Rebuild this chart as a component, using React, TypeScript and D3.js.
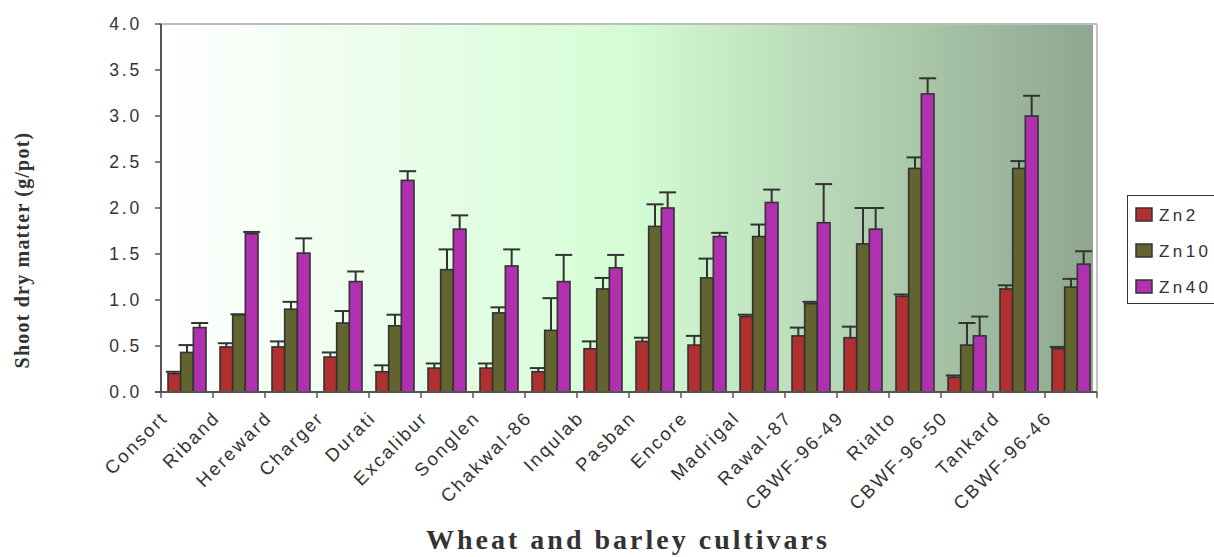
import React from "react";
import * as d3 from "d3";

const cultivars = ["Consort","Riband","Hereward","Charger","Durati","Excalibur","Songlen","Chakwal-86","Inqulab","Pasban","Encore","Madrigal","Rawal-87","CBWF-96-49","Rialto","CBWF-96-50","Tankard","CBWF-96-46"];
const seriesNames = ["Zn2","Zn10","Zn40"];
const zn2 = [0.20,0.49,0.49,0.38,0.22,0.26,0.26,0.22,0.47,0.55,0.51,0.82,0.61,0.59,1.04,0.16,1.12,0.47];
const zn2Err = [0.02,0.04,0.06,0.05,0.07,0.05,0.05,0.04,0.08,0.04,0.10,0.02,0.09,0.12,0.02,0.02,0.04,0.02];
const zn10 = [0.43,0.84,0.90,0.75,0.72,1.33,0.86,0.67,1.12,1.80,1.24,1.69,0.96,1.61,2.43,0.51,2.43,1.14];
const zn10Err = [0.08,0.005,0.08,0.13,0.12,0.22,0.06,0.35,0.12,0.24,0.21,0.13,0.02,0.39,0.12,0.24,0.08,0.09];
const zn40 = [0.70,1.72,1.51,1.20,2.30,1.77,1.37,1.20,1.35,2.00,1.69,2.06,1.84,1.77,3.24,0.61,3.00,1.39];
const zn40Err = [0.05,0.02,0.16,0.11,0.10,0.15,0.18,0.29,0.14,0.17,0.04,0.14,0.42,0.23,0.17,0.21,0.22,0.14];
const yTicks = [0,0.5,1,1.5,2,2.5,3,3.5,4];
const colors = ["#b03030","#636330","#b030b0"];

export default function App() {
  const left = 161, right = 1097, top = 24, bottom = 392;
  const x = d3.scaleBand<string>().domain(cultivars).range([left, right]).padding(0);
  const y = d3.scaleLinear().domain([0, 4]).range([bottom, top]);
  const groupW = 38;
  const inner = d3.scaleBand<string>().domain(seriesNames).range([0, groupW]).padding(0);
  const values = [zn2, zn10, zn40];
  const errs = [zn2Err, zn10Err, zn40Err];
  const capW = 17;
  const bw = x.bandwidth();
  const tickXs = cultivars.map((c) => x(c) as number).concat([right]);

  return (
    <svg width={1214} height={557} style={{ position: "absolute", left: 0, top: 0, background: "#fff" }}>
      <defs>
        <linearGradient id="bg" x1="0" x2="1" y1="0" y2="0">
          <stop offset="0%" stopColor="#ffffff" />
          <stop offset="50.5%" stopColor="#d4fcd4" />
          <stop offset="100%" stopColor="#8fa68f" />
        </linearGradient>
      </defs>
      <rect x={left + 1} y={top - 1} width={1093 - left - 1} height={bottom - top + 1} fill="url(#bg)" />
      <line x1={left} x2={right} y1={top} y2={top} stroke="#bdbdbd" strokeWidth={2} />
      <line x1={right} x2={right} y1={top} y2={bottom} stroke="#c4c4c4" strokeWidth={2} />

      {cultivars.map((c, i) => {
        const gx = (x(c) as number) + (bw - groupW) / 2;
        return (
          <g key={c}>
            {seriesNames.map((s, k) => {
              const v = values[k][i];
              const bx = gx + (inner(s) as number);
              const iw = inner.bandwidth();
              const cx = bx + iw / 2;
              const yt = y(v + errs[k][i]);
              return (
                <g key={s}>
                  <rect x={bx} y={y(v)} width={iw} height={bottom - y(v)} fill={colors[k]} stroke="#333" strokeWidth={1.6} />
                  <line x1={cx} x2={cx} y1={y(v)} y2={yt} stroke="#333" strokeWidth={2} />
                  <line x1={cx - capW / 2} x2={cx + capW / 2} y1={yt} y2={yt} stroke="#333" strokeWidth={2} />
                </g>
              );
            })}
          </g>
        );
      })}

      <line x1={left} x2={left} y1={top} y2={bottom} stroke="#555" strokeWidth={2} />
      <line x1={left - 6} x2={right} y1={bottom} y2={bottom} stroke="#555" strokeWidth={2} />
      {yTicks.map((t) => (
        <g key={t}>
          <line x1={left - 6} x2={left} y1={y(t)} y2={y(t)} stroke="#555" strokeWidth={1.5} />
          <text x={left - 19} y={y(t)} dy="0.36em" textAnchor="end" fontFamily="Liberation Sans, Arial, sans-serif" fontSize={17.5} letterSpacing={2.8} fill="#333">
            {d3.format(".1f")(t)}
          </text>
        </g>
      ))}
      {tickXs.map((tx, i) => (
        <line key={i} x1={tx} x2={tx} y1={bottom} y2={bottom + 6} stroke="#555" strokeWidth={1.5} />
      ))}
      {cultivars.map((c) => {
        const cx = (x(c) as number) + bw / 2 - 18;
        return (
          <text key={c} transform={`translate(${cx},${419}) rotate(-45)`} textAnchor="end" fontFamily="Liberation Sans, Arial, sans-serif" fontSize={18.5} letterSpacing={2.2} fill="#333">
            {c}
          </text>
        );
      })}

      <text transform="translate(29,250) rotate(-90)" textAnchor="middle" fontFamily="Liberation Serif, Times New Roman, serif" fontWeight="bold" fontSize={20} letterSpacing={1.2} fill="#333">
        Shoot dry matter (g/pot)
      </text>
      <text x={628} y={549} textAnchor="middle" fontFamily="Liberation Serif, Times New Roman, serif" fontWeight="bold" fontSize={28} letterSpacing={3} fill="#333">
        Wheat and barley cultivars
      </text>

      <rect x={1127.5} y={195.5} width={100} height={108} fill="#fff" stroke="#333" strokeWidth={1} />
      {seriesNames.map((s, k) => (
        <g key={s}>
          <rect x={1136} y={208 + k * 36} width={16} height={13} fill={colors[k]} stroke="#333" strokeWidth={1.5} />
          <text x={1159} y={221 + k * 36} fontFamily="Liberation Sans, Arial, sans-serif" fontSize={17} letterSpacing={3.4} fill="#333">
            {s}
          </text>
        </g>
      ))}
    </svg>
  );
}
